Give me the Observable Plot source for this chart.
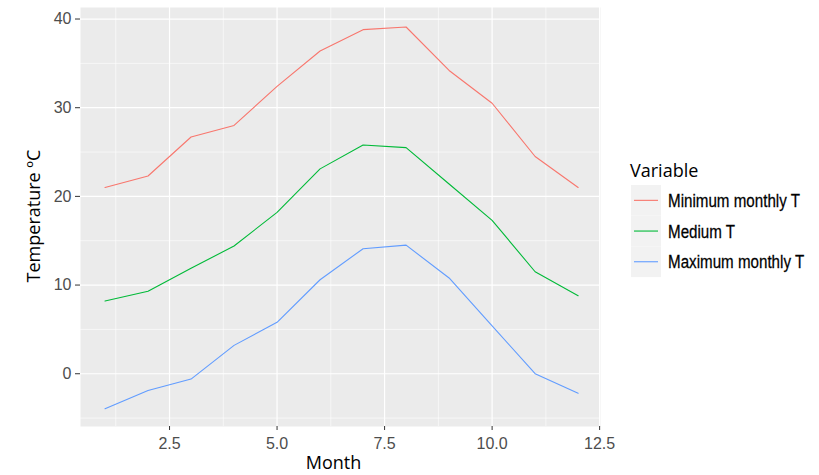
<!DOCTYPE html>
<html>
<head>
<meta charset="utf-8">
<script src="https://cdn.jsdelivr.net/npm/d3@7"></script>
<script src="https://cdn.jsdelivr.net/npm/@observablehq/plot@0.6"></script>
<style>
  html, body { margin: 0; padding: 0; background: #ffffff; }
  #chart { position: relative; width: 819px; height: 475px; }
  g[aria-label="y-axis tick"], g[aria-label="x-axis tick"] { stroke: #333333; }
  g[aria-label="y-axis tick label"], g[aria-label="x-axis tick label"] { fill: #4D4D4D; }
</style>
</head>
<body>
<div id="chart"></div>
<script>
// ---- data ----
const months = [1, 2, 3, 4, 5, 6, 7, 8, 9, 10, 11, 12];
const minMonthlyT = [21.0, 22.3, 26.7, 28.0, 32.4, 36.4, 38.8, 39.1, 34.2, 30.5, 24.5, 21.0];
const mediumT     = [8.2, 9.3, 11.9, 14.4, 18.2, 23.1, 25.8, 25.5, 21.4, 17.3, 11.5, 8.8];
const maxMonthlyT = [-3.95, -1.9, -0.6, 3.2, 5.8, 10.6, 14.1, 14.5, 10.8, 5.4, 0.0, -2.2];
const seriesNames = ["Minimum monthly T", "Medium T", "Maximum monthly T"];
const seriesColors = ["#F8766D", "#00BA38", "#619CFF"];
const xTicks = [2.5, 5.0, 7.5, 10.0, 12.5];
const xMinor = [1.25, 3.75, 6.25, 8.75, 11.25];
const yTicks = [0, 10, 20, 30, 40];
const yMinor = [-5, 5, 15, 25, 35];
const xTitle = "Month";
const yTitle = "Temperature ºC";
const legendTitle = "Variable";

// ---- long table ----
const seriesValues = [minMonthlyT, mediumT, maxMonthlyT];
const data = [];
seriesNames.forEach((name, i) => {
  months.forEach((m, j) => data.push({month: m, value: seriesValues[i][j], variable: name}));
});

const plot = Plot.plot({
  width: 819,
  height: 475,
  marginLeft: 80,
  marginRight: 219,
  marginTop: 7,
  marginBottom: 49,
  style: {fontFamily: "'Liberation Sans', Arial, sans-serif", fontSize: "16px", background: "#ffffff", overflow: "visible"},
  x: {domain: [0.43, 12.52]},
  y: {domain: [-5.95, 41.3]},
  color: {domain: seriesNames, range: seriesColors},
  marks: [
    Plot.frame({fill: "#EBEBEB", stroke: null}),
    Plot.ruleY(yMinor, {stroke: "#ffffff", strokeWidth: 0.6}),
    Plot.ruleX(xMinor, {stroke: "#ffffff", strokeWidth: 0.6}),
    Plot.ruleY(yTicks, {stroke: "#ffffff", strokeWidth: 1.2}),
    Plot.ruleX(xTicks, {stroke: "#ffffff", strokeWidth: 1.2}),
    Plot.axisY({ticks: yTicks, tickSize: 5, tickPadding: 4, tickFormat: d => d3.format("d")(d), label: null, fontSize: 16}),
    Plot.axisX({ticks: xTicks, tickSize: 4, tickPadding: 7, tickFormat: d => d.toFixed(1), label: null, fontSize: 16}),
    Plot.line(data, {x: "month", y: "value", stroke: "variable", z: "variable", strokeWidth: 1.1}),
    Plot.text([yTitle], {frameAnchor: "left", textAnchor: "middle", lineAnchor: "middle", rotate: -90, dx: -46, dy: -1, fontSize: 18, fontFamily: "'Open Sans', sans-serif", fill: "#000000"}),
    Plot.text([xTitle], {frameAnchor: "bottom", textAnchor: "middle", lineAnchor: "middle", dy: 37, dx: -7, fontSize: 18, fontFamily: "'Open Sans', sans-serif", fill: "#000000"})
  ]
});

document.getElementById("chart").appendChild(plot);

// ---- legend (built from the series arrays and the plot's color scale) ----
const colorScale = plot.scale("color");
const svg = d3.select(plot);
const lg = svg.append("g").attr("aria-label", "legend").attr("text-anchor", "start");
lg.append("text")
  .attr("x", 630).attr("y", 177)
  .attr("font-family", "'Open Sans', sans-serif").attr("font-size", 18).attr("fill", "#000000")
  .text(legendTitle);
const keyH = 30.7, keyTop = 185;
seriesNames.forEach((name, i) => {
  const y0 = keyTop + i * keyH;
  lg.append("rect").attr("x", 631).attr("y", y0).attr("width", 30).attr("height", keyH).attr("fill", "#F2F2F2");
  lg.append("line").attr("x1", 634).attr("x2", 658).attr("y1", y0 + keyH / 2).attr("y2", y0 + keyH / 2)
    .attr("stroke", colorScale.range[colorScale.domain.indexOf(name)]).attr("stroke-width", 1.1);
  // narrow (condensed) face emulated by a horizontal scale
  lg.append("text")
    .attr("transform", `translate(668,${y0 + keyH / 2}) scale(0.82,1)`)
    .attr("x", 0).attr("y", 0).attr("dy", "0.36em")
    .attr("font-family", "'Liberation Sans', Arial, sans-serif")
    .attr("font-size", 18.5).attr("fill", "#000000")
    .attr("stroke", "#000000").attr("stroke-width", 0.25)
    .text(name);
});
</script>
</body>
</html>
